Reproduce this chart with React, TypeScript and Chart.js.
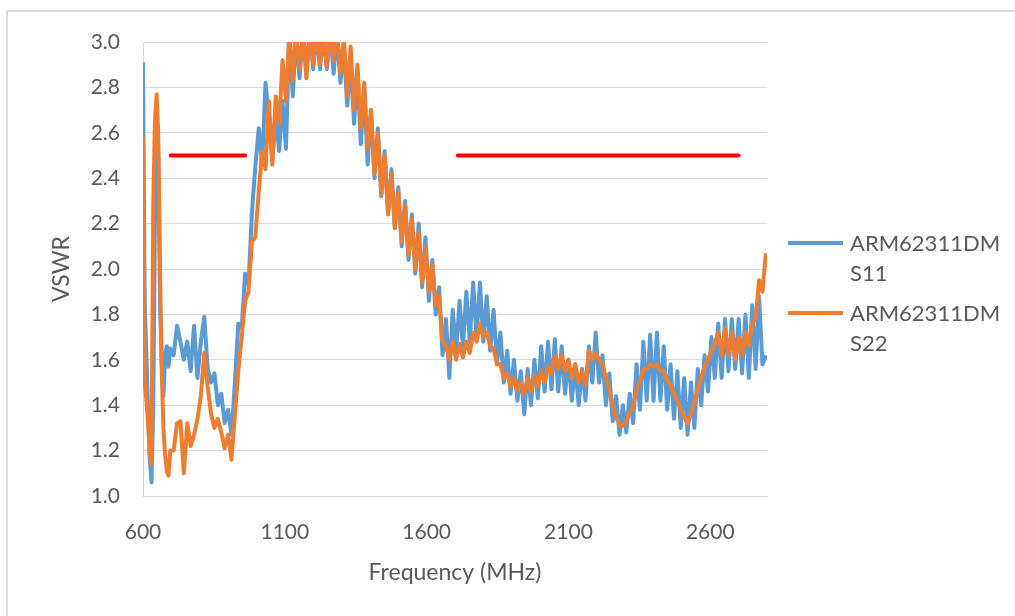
import { useEffect, useRef } from "react"
import { Chart, registerables } from "chart.js"

Chart.register(...registerables)

// Sweep points (MHz): finer steps near the low-band spike, then 12 MHz steps
const freqMHz = [
    600, 606, 612, 618, 624, 630, 636, 642, 648, 654, 660, 666, 672, 678, 684, 690, 696,
    708, 720, 732, 744, 756, 768, 780, 792, 804, 816,
    828, 840, 852, 864, 876, 888, 900, 912, 924, 936,
    948, 960, 972, 984, 996, 1008, 1020, 1032, 1044, 1056,
    1068, 1080, 1092, 1104, 1116, 1128, 1140, 1152, 1164, 1176,
    1188, 1200, 1212, 1224, 1236, 1248, 1260, 1272, 1284, 1296,
    1308, 1320, 1332, 1344, 1356, 1368, 1380, 1392, 1404, 1416,
    1428, 1440, 1452, 1464, 1476, 1488, 1500, 1512, 1524, 1536,
    1548, 1560, 1572, 1584, 1596, 1608, 1620, 1632, 1644, 1656,
    1668, 1680, 1692, 1704, 1716, 1728, 1740, 1752, 1764, 1776,
    1788, 1800, 1812, 1824, 1836, 1848, 1860, 1872, 1884, 1896,
    1908, 1920, 1932, 1944, 1956, 1968, 1980, 1992, 2004, 2016,
    2028, 2040, 2052, 2064, 2076, 2088, 2100, 2112, 2124, 2136,
    2148, 2160, 2172, 2184, 2196, 2208, 2220, 2232, 2244, 2256,
    2268, 2280, 2292, 2304, 2316, 2328, 2340, 2352, 2364, 2376,
    2388, 2400, 2412, 2424, 2436, 2448, 2460, 2472, 2484, 2496,
    2508, 2520, 2532, 2544, 2556, 2568, 2580, 2592, 2604, 2616,
    2628, 2640, 2652, 2664, 2676, 2688, 2700, 2712, 2724, 2736,
    2748, 2760, 2772, 2784, 2796,
]

// S11 (blue)
const s11 = [
    2.91, 1.85, 1.62, 1.38, 1.16, 1.06, 1.38, 2.20, 2.70, 2.48, 1.85, 1.58, 1.44, 1.62, 1.66, 1.57, 1.65,
    1.62, 1.75, 1.68, 1.60, 1.68, 1.55, 1.75, 1.52, 1.68, 1.79,
    1.56, 1.50, 1.54, 1.40, 1.45, 1.32, 1.38, 1.27, 1.50, 1.76,
    1.74, 1.98, 1.93, 2.25, 2.45, 2.62, 2.46, 2.82, 2.66, 2.48,
    2.68, 2.52, 2.74, 2.53, 3.04, 2.76, 3.04, 2.84, 3.05, 2.86,
    3.05, 2.88, 3.05, 2.88, 3.05, 2.88, 3.05, 2.86, 3.04, 2.82,
    2.98, 2.72, 2.92, 2.64, 2.86, 2.55, 2.80, 2.46, 2.70, 2.40,
    2.62, 2.32, 2.52, 2.25, 2.44, 2.18, 2.36, 2.10, 2.30, 2.04,
    2.24, 1.98, 2.20, 1.92, 2.14, 1.86, 2.04, 1.80, 1.92, 1.62,
    1.78, 1.52, 1.82, 1.63, 1.86, 1.66, 1.90, 1.68, 1.94, 1.70,
    1.94, 1.68, 1.88, 1.64, 1.82, 1.58, 1.72, 1.50, 1.64, 1.45,
    1.60, 1.42, 1.55, 1.36, 1.56, 1.40, 1.60, 1.43, 1.66, 1.46,
    1.68, 1.47, 1.69, 1.46, 1.66, 1.45, 1.60, 1.42, 1.58, 1.40,
    1.56, 1.42, 1.66, 1.50, 1.72, 1.50, 1.62, 1.40, 1.54, 1.33,
    1.44, 1.27, 1.40, 1.28, 1.45, 1.32, 1.58, 1.38, 1.68, 1.42,
    1.71, 1.42, 1.72, 1.42, 1.66, 1.38, 1.58, 1.34, 1.55, 1.30,
    1.52, 1.27, 1.50, 1.30, 1.56, 1.40, 1.62, 1.46, 1.70, 1.52,
    1.76, 1.52, 1.78, 1.55, 1.78, 1.56, 1.78, 1.54, 1.80, 1.52,
    1.84, 1.56, 1.88, 1.58, 1.62,
]

// S22 (orange)
const s22 = [
    2.58, 1.50, 1.42, 1.32, 1.18, 1.14, 2.28, 2.65, 2.77, 2.58, 2.00, 1.55, 1.30, 1.18, 1.11, 1.09, 1.20,
    1.20, 1.32, 1.33, 1.10, 1.32, 1.22, 1.27, 1.34, 1.44, 1.63,
    1.48, 1.36, 1.30, 1.34, 1.28, 1.21, 1.27, 1.16, 1.36, 1.55,
    1.70, 1.86, 1.90, 2.12, 2.14, 2.34, 2.52, 2.44, 2.74, 2.46,
    2.76, 2.64, 2.92, 2.74, 3.05, 2.83, 3.05, 2.88, 3.05, 2.84,
    3.05, 2.90, 3.05, 2.90, 3.05, 2.89, 3.05, 2.92, 3.05, 2.86,
    3.02, 2.76, 2.98, 2.70, 2.90, 2.62, 2.82, 2.53, 2.70, 2.42,
    2.60, 2.33, 2.50, 2.24, 2.42, 2.18, 2.34, 2.12, 2.28, 2.06,
    2.22, 2.00, 2.16, 1.94, 2.10, 1.90, 2.02, 1.84, 1.88, 1.68,
    1.66, 1.60, 1.68, 1.60, 1.67, 1.61, 1.68, 1.63, 1.72, 1.68,
    1.76, 1.70, 1.72, 1.66, 1.65, 1.58, 1.58, 1.52, 1.54, 1.48,
    1.52, 1.46, 1.50, 1.45, 1.52, 1.46, 1.53, 1.48, 1.55, 1.50,
    1.57, 1.54, 1.62, 1.56, 1.62, 1.55, 1.60, 1.52, 1.58, 1.50,
    1.55, 1.49, 1.64, 1.60, 1.63, 1.60, 1.58, 1.52, 1.47, 1.40,
    1.35, 1.31, 1.31, 1.33, 1.37, 1.39, 1.47, 1.50, 1.56, 1.56,
    1.58, 1.57, 1.58, 1.55, 1.55, 1.51, 1.49, 1.45, 1.42, 1.38,
    1.35, 1.32, 1.36, 1.41, 1.47, 1.52, 1.57, 1.60, 1.64, 1.67,
    1.72, 1.62, 1.74, 1.62, 1.72, 1.60, 1.70, 1.62, 1.72, 1.66,
    1.76, 1.78, 1.95, 1.90, 2.07,
]

// VSWR limit bands
const lowBandMHz = [698, 960]
const highBandMHz = [1710, 2700]
const vswrLimit = 2.5

const freqTicks = [600, 1100, 1600, 2100, 2600]
const vswrTicks = [1.0, 1.2, 1.4, 1.6, 1.8, 2.0, 2.2, 2.4, 2.6, 2.8, 3.0]

const legendItems = [
    { lines: ["ARM62311DM", "S11"], color: "#5B9BD5" },
    { lines: ["ARM62311DM", "S22"], color: "#ED7D31" },
]

const TEXT = "#595959"
const GRID = "#d9d9d9"
const FONT = "Lato, 'Noto Sans', sans-serif"

export default function App() {
    const chartRef = useRef<HTMLCanvasElement>(null)
    const chartInstance = useRef<Chart | null>(null)

    useEffect(() => {
        if (!chartRef.current) return
        if (chartInstance.current) chartInstance.current.destroy()

        const ctx = chartRef.current.getContext("2d")
        if (!ctx) return

        const band = (range: number[]) => range.map((f) => ({ x: f, y: vswrLimit }))

        chartInstance.current = new Chart(ctx, {
            type: "line",
            data: {
                datasets: [
                    {
                        label: "limit low",
                        data: band(lowBandMHz),
                        borderColor: "#FF0000",
                        borderWidth: 4,
                        borderCapStyle: "round",
                        pointRadius: 0,
                        order: 0,
                    },
                    {
                        label: "limit high",
                        data: band(highBandMHz),
                        borderColor: "#FF0000",
                        borderWidth: 4,
                        borderCapStyle: "round",
                        pointRadius: 0,
                        order: 0,
                    },
                    {
                        label: "ARM62311DM S22",
                        data: freqMHz.map((f, i) => ({ x: f, y: s22[i] })),
                        borderColor: "#ED7D31",
                        borderWidth: 4,
                        borderJoinStyle: "round",
                        pointRadius: 0,
                        tension: 0,
                        order: 1,
                    },
                    {
                        label: "ARM62311DM S11",
                        data: freqMHz.map((f, i) => ({ x: f, y: s11[i] })),
                        borderColor: "#5B9BD5",
                        borderWidth: 4,
                        borderJoinStyle: "round",
                        pointRadius: 0,
                        tension: 0,
                        order: 2,
                    },
                ],
            },
            options: {
                responsive: false,
                animation: false,
                layout: { padding: { left: 0, top: 42, right: 248, bottom: 0 } },
                plugins: {
                    legend: { display: false },
                    tooltip: { enabled: false },
                },
                scales: {
                    x: {
                        type: "linear",
                        min: 600,
                        max: 2800,
                        afterBuildTicks: (scale) => {
                            scale.ticks = freqTicks.map((v) => ({ value: v }))
                        },
                        afterFit: (scale) => {
                            scale.height = 120
                        },
                        grid: { display: false },
                        border: { display: true, color: GRID, width: 1 },
                        ticks: {
                            color: TEXT,
                            font: { family: FONT, size: 21 },
                            padding: 16,
                            maxRotation: 0,
                            autoSkip: false,
                            callback: (v) => String(v),
                        },
                        title: {
                            display: true,
                            text: "Frequency (MHz)",
                            color: TEXT,
                            font: { family: FONT, size: 23 },
                            padding: { top: 0, bottom: 30 },
                        },
                    },
                    y: {
                        type: "linear",
                        min: 1,
                        max: 3,
                        afterBuildTicks: (scale) => {
                            scale.ticks = vswrTicks.map((v) => ({ value: v }))
                        },
                        afterFit: (scale) => {
                            scale.width = 143
                        },
                        grid: { color: GRID, lineWidth: 1, drawTicks: false },
                        border: { display: true, color: GRID, width: 1 },
                        ticks: {
                            color: TEXT,
                            font: { family: FONT, size: 21 },
                            padding: 23,
                            callback: (v) => Number(v).toFixed(1),
                        },
                        title: {
                            display: true,
                            text: "VSWR",
                            color: TEXT,
                            font: { family: FONT, size: 23 },
                            padding: { top: 48, bottom: 0 },
                        },
                    },
                },
            },
        })

        return () => {
            if (chartInstance.current) {
                chartInstance.current.destroy()
                chartInstance.current = null
            }
        }
    }, [])

    return (
        <div style={{ position: "fixed", left: 0, top: 0, width: 1015, height: 616, background: "#fff", overflow: "hidden" }}>
            <div
                style={{
                    position: "absolute",
                    left: 6,
                    top: 10,
                    width: 1100,
                    height: 700,
                    borderLeft: `2px solid ${GRID}`,
                    borderTop: `2px solid ${GRID}`,
                }}
            />
            <canvas
                ref={chartRef}
                width={1015}
                height={616}
                style={{ position: "absolute", left: 0, top: 0, width: 1015, height: 616 }}
            ></canvas>
            {legendItems.map((item, k) => (
                <div key={k} style={{ position: "absolute", left: 788, top: 228 + k * 70, fontFamily: FONT, fontSize: 22, lineHeight: "30px", color: TEXT }}>
                    <div style={{ position: "absolute", left: 0, top: 13, width: 55, height: 4, background: item.color }} />
                    <div style={{ position: "absolute", left: 62, top: 0, whiteSpace: "nowrap" }}>
                        {item.lines.map((l, j) => (
                            <div key={j}>{l}</div>
                        ))}
                    </div>
                </div>
            ))}
        </div>
    )
}
